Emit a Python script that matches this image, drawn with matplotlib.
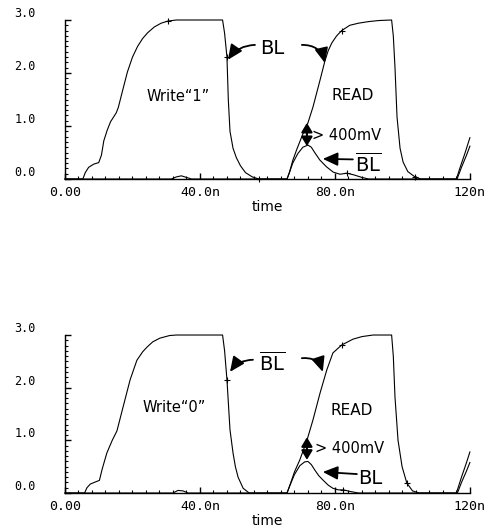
import numpy as np
import matplotlib
matplotlib.use('Agg')
import matplotlib.pyplot as plt
from matplotlib.ticker import MultipleLocator

plt.rcParams['mathtext.fontset'] = 'custom'
plt.rcParams['mathtext.rm'] = 'DejaVu Sans'

# axis ticks
x_ticks = [0, 40, 80, 120]
x_tick_labels = ['0.00', '40.0n', '80.0n', '120n']
y_ticks = [0, 1, 2, 3]
y_tick_labels = ['0.0', '1.0', '2.0', '3.0']

# top panel, write "1" then read : BL (big) and BLbar (small)
t_top_bl = [0, 5.3, 6.0, 7.0, 8.5, 10.0, 10.8, 11.5, 12.5, 13.5, 15.2, 15.8, 17.0, 18.5, 20.0,
            21.5, 23.0, 24.5, 26.5, 28.5, 30.5, 33.0, 46.7, 47.3, 48.0, 48.4, 48.9, 49.8, 50.8,
            52.0, 53.5, 55.5, 57.5, 65.8, 66.5, 67.5, 68.7, 70.5, 72.0, 73.5, 75.6, 77.0, 78.0,
            79.1, 80.5, 82.0, 84.4, 87.0, 90.0, 93.0, 96.8, 97.3, 97.8, 98.4, 99.3, 100.2, 101.6,
            103.7, 105.5, 116.0, 117.0, 118.5, 120.0]
v_top_bl = [0, 0, 0.12, 0.22, 0.28, 0.31, 0.45, 0.72, 0.92, 1.08, 1.25, 1.35, 1.65, 2.02, 2.30,
            2.50, 2.65, 2.76, 2.87, 2.94, 2.98, 3.0, 3.0, 2.75, 2.30, 1.50, 0.90, 0.58, 0.40,
            0.25, 0.12, 0.04, 0.0, 0.0, 0.12, 0.35, 0.56, 0.85, 1.06, 1.36, 1.87, 2.22, 2.42,
            2.57, 2.70, 2.80, 2.90, 2.94, 2.97, 2.99, 3.0, 2.70, 2.10, 1.17, 0.58, 0.32, 0.14,
            0.04, 0.0, 0.0, 0.20, 0.48, 0.78]
t_top_blb = [0, 31.5, 33.0, 34.5, 36.0, 37.5, 65.8, 66.5, 67.5, 69.0, 70.5, 72.0, 73.0, 74.0,
             75.5, 77.5, 79.5, 81.5, 83.5, 85.5, 88.0, 90.0, 116.2, 117.5, 119.0, 120.0]
v_top_blb = [0, 0, 0.04, 0.06, 0.03, 0.0, 0, 0.12, 0.30, 0.48, 0.60, 0.64, 0.60, 0.50,
             0.36, 0.23, 0.13, 0.09, 0.11, 0.08, 0.03, 0.0, 0.0, 0.22, 0.45, 0.62]

# bottom panel, write "0" then read : BLbar (big) and BL (small)
t_bot_blb = [0, 5.8, 6.5, 7.5, 9.0, 10.2, 11.0, 12.4, 14.0, 15.4, 16.2, 17.2, 19.3, 21.3, 23.0,
             24.3, 26.0, 28.1, 31.0, 33.0, 46.7, 47.3, 48.0, 48.9, 49.8, 50.5, 51.3, 52.8, 54.6,
             65.8, 66.5, 68.0, 69.6, 71.7, 73.5, 75.6, 77.6, 79.4, 82.0, 85.3, 88.0, 91.3, 96.8,
             97.3, 97.8, 98.7, 99.9, 101.3, 103.0, 105.0, 116.0, 117.5, 119.0, 120.0]
v_bot_blb = [0, 0, 0.10, 0.17, 0.21, 0.24, 0.45, 0.76, 1.00, 1.18, 1.38, 1.63, 2.15, 2.52, 2.68,
             2.77, 2.87, 2.94, 2.99, 3.0, 3.0, 2.70, 2.15, 1.20, 0.76, 0.50, 0.30, 0.09, 0.0,
             0.0, 0.12, 0.40, 0.63, 1.00, 1.39, 1.90, 2.34, 2.66, 2.81, 2.92, 2.97, 3.0, 3.0,
             2.60, 1.82, 1.00, 0.50, 0.19, 0.04, 0.0, 0.0, 0.30, 0.58, 0.78]
t_bot_bl = [0, 32.0, 33.5, 35.0, 36.5, 65.8, 66.5, 68.0, 69.6, 71.0, 72.0, 73.0, 74.0, 75.2,
            76.4, 78.0, 79.4, 81.0, 82.5, 84.5, 87.0, 116.3, 117.5, 119.0, 120.0]
v_bot_bl = [0, 0, 0.05, 0.04, 0.0, 0.0, 0.12, 0.35, 0.52, 0.59, 0.60, 0.54, 0.44, 0.33,
            0.25, 0.15, 0.09, 0.06, 0.06, 0.03, 0.0, 0.0, 0.20, 0.42, 0.58]

fig = plt.figure(figsize=(4.95, 5.29), dpi=100)
ax1 = fig.add_axes([0.1313, 0.6616, 0.818, 0.3006])
ax2 = fig.add_axes([0.1313, 0.068, 0.818, 0.2987])


def style(ax):
    ax.set_xlim(0, 120)
    ax.set_ylim(0, 3)
    ax.spines['top'].set_visible(False)
    ax.spines['right'].set_visible(False)
    ax.spines['left'].set_linewidth(1)
    ax.spines['bottom'].set_linewidth(1)
    ax.set_xticks(x_ticks)
    ax.set_xticklabels(x_tick_labels, fontfamily='DejaVu Sans Mono', fontsize=9.5)
    ax.set_yticks(y_ticks)
    ax.set_yticklabels(y_tick_labels, fontfamily='DejaVu Sans Mono', fontsize=8.5)
    ax.xaxis.set_minor_locator(MultipleLocator(4))
    ax.yaxis.set_minor_locator(MultipleLocator(0.1))
    ax.tick_params(which='both', direction='in')
    ax.tick_params(axis='y', which='major', length=4, width=1, pad=21)
    ax.tick_params(axis='x', which='major', length=4, width=1, pad=5)
    ax.tick_params(which='minor', length=2, width=0.8)
    for lab in ax.get_yticklabels():
        lab.set_va('bottom')
    ax.set_xlabel('time', fontsize=10, labelpad=1)


def arrow(ax, head, tail, rad=0.0):
    ax.annotate('', xy=head, xytext=tail,
                arrowprops=dict(arrowstyle='-|>,head_length=0.6,head_width=0.27',
                                color='k', lw=1.3, mutation_scale=15,
                                shrinkA=0, shrinkB=0,
                                connectionstyle='arc3,rad=%s' % rad))


def double_arrow(ax, x, y0, y1):
    ax.annotate('', xy=(x, y1), xytext=(x, y0),
                arrowprops=dict(arrowstyle='<|-|>,head_length=0.5,head_width=0.3',
                                color='k', lw=1.5, mutation_scale=11,
                                shrinkA=0, shrinkB=0))


# top panel
ax1.plot(t_top_bl, v_top_bl, color='k', lw=0.8, clip_on=False,
         marker='+', ms=4, mew=0.8, markevery=[20, 24, 32, 45, 57])
ax1.plot(t_top_blb, v_top_blb, color='k', lw=0.8, clip_on=False,
         marker='+', ms=4, mew=0.8, markevery=[18])
style(ax1)
ax1.text(33.5, 1.55, 'Write\u201c1\u201d', fontsize=10.5, ha='center', va='center')
ax1.text(85.3, 1.57, 'READ', fontsize=11, ha='center', va='center')
ax1.text(61.3, 2.47, 'BL', fontsize=14, ha='center', va='center')
arrow(ax1, (48.3, 2.25), (56.3, 2.53), rad=0.25)
arrow(ax1, (77.0, 2.19), (70.2, 2.53), rad=-0.4)
double_arrow(ax1, 71.7, 1.06, 0.62)
ax1.text(73.2, 0.83, '> 400mV', fontsize=10.5, ha='left', va='center')
ax1.text(89.8, 0.28, r'$\overline{\mathrm{BL}}$', fontsize=14, ha='center', va='center')
arrow(ax1, (76.4, 0.38), (85.3, 0.37))

# bottom panel
ax2.plot(t_bot_blb, v_bot_blb, color='k', lw=0.8, clip_on=False,
         marker='+', ms=4, mew=0.8, markevery=[22, 38, 47])
ax2.plot(t_bot_bl, v_bot_bl, color='k', lw=0.8, clip_on=False,
         marker='+', ms=4, mew=0.8, markevery=[18])
style(ax2)
ax2.text(32.3, 1.63, 'Write\u201c0\u201d', fontsize=10.5, ha='center', va='center')
ax2.text(85.0, 1.56, 'READ', fontsize=11, ha='center', va='center')
ax2.text(61.3, 2.47, r'$\overline{\mathrm{BL}}$', fontsize=14, ha='center', va='center')
arrow(ax2, (48.9, 2.30), (55.7, 2.53), rad=0.25)
arrow(ax2, (76.4, 2.30), (70.2, 2.56), rad=-0.4)
double_arrow(ax2, 71.7, 1.06, 0.63)
ax2.text(74.0, 0.85, '> 400mV', fontsize=10.5, ha='left', va='center')
ax2.text(90.4, 0.28, 'BL', fontsize=14, ha='center', va='center')
arrow(ax2, (76.4, 0.40), (86.5, 0.36))

fig.savefig('out.png', dpi=100)
